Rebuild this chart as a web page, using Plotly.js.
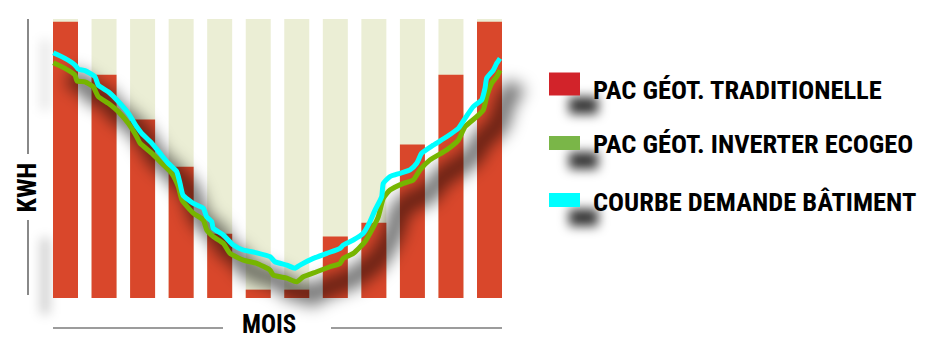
<!DOCTYPE html>
<html>
<head>
<meta charset="utf-8">
<script src="https://cdn.plot.ly/plotly-3.0.1.min.js"></script>
<style>
  html, body { margin: 0; padding: 0; background: #fff; }
  #chart { width: 928px; height: 338px; }
</style>
</head>
<body>
<div id="chart"></div>
<script>
// Monthly energy use: traditional geothermal heat pump (bars),
// inverter ECOGEO unit and building demand curve (lines).
const months = [1, 2, 3, 4, 5, 6, 7, 8, 9, 10, 11, 12];
const capacity = [100, 100, 100, 100, 100, 100, 100, 100, 100, 100, 100, 100];
const traditionalKwh = [99, 80, 64, 47, 23, 3, 3, 22, 27, 55, 80, 99];

const demandX = [0.683, 0.987, 1.246, 1.332, 1.506, 1.765, 1.851, 2.110, 2.370, 2.629,
  2.847, 2.977, 3.236, 3.452, 3.667, 3.885, 3.971, 4.048, 4.316, 4.575,
  4.663, 4.793, 4.834, 5.094, 5.353, 5.613, 5.961, 6.306, 6.435, 6.739,
  6.954, 7.084, 7.429, 7.777, 8.122, 8.207, 8.467, 8.726, 8.900, 9.030,
  9.203, 9.245, 9.419, 9.678, 9.938, 10.112, 10.241, 10.542, 10.890, 11.191,
  11.365, 11.580, 11.798, 11.883, 11.928, 12.099, 12.187, 12.273];
const demandKwh = [87.9, 85.9, 83.5, 82.0, 81.5, 79.3, 76.3, 73.9, 70.4, 66.2,
  61.4, 59.0, 55.5, 51.9, 48.3, 45.3, 41.1, 36.9, 33.9, 32.2,
  29.1, 27.4, 25.0, 22.6, 19.0, 17.2, 16.2, 14.8, 13.0, 11.8,
  10.7, 11.8, 14.2, 16.0, 17.8, 19.0, 20.8, 23.2, 27.4, 31.5,
  36.3, 41.1, 43.5, 44.7, 45.9, 48.3, 51.9, 54.8, 57.8, 60.8,
  64.4, 68.6, 71.0, 75.2, 78.8, 81.7, 84.1, 85.9];

const inverterX = [0.683, 0.987, 1.246, 1.298, 1.506, 1.721, 1.851, 2.110, 2.370, 2.629,
  2.847, 2.933, 3.236, 3.496, 3.755, 3.926, 4.022, 4.316, 4.575, 4.663,
  4.834, 5.094, 5.268, 5.613, 5.961, 6.306, 6.391, 6.739, 6.998, 7.169,
  7.517, 7.862, 8.122, 8.207, 8.467, 8.770, 8.900, 9.115, 9.245, 9.419,
  9.764, 10.023, 10.197, 10.457, 10.890, 11.191, 11.365, 11.669, 11.839, 11.928,
  12.057, 12.187, 12.273];
const inverterKwh = [84.3, 82.3, 79.9, 77.8, 77.5, 75.7, 72.2, 69.8, 66.8, 62.6,
  57.8, 55.5, 51.9, 48.3, 44.7, 39.9, 35.1, 30.4, 28.0, 24.4,
  22.0, 19.6, 16.0, 13.6, 12.4, 10.0, 8.2, 7.1, 5.8, 7.6,
  9.4, 11.2, 12.4, 14.2, 16.0, 20.2, 23.2, 29.1, 35.7, 38.7,
  41.1, 42.3, 45.9, 49.5, 53.1, 56.6, 61.4, 65.0, 67.4, 72.2,
  77.0, 79.3, 81.7];

const seriesNames = ['PAC GÉOT. TRADITIONELLE', 'PAC GÉOT. INVERTER ECOGEO', 'COURBE DEMANDE BÂTIMENT'];
const xTitle = 'MOIS';
const yTitle = 'KWH';

// Page geometry: the plot area fills the whole figure, so pixels map linearly to data.
const W = 928, H = 338;
const PX_PER_MONTH = 38.545, MONTH1_PX = 65.5;
const PX_PER_KWH = 2.79, ZERO_PX = 298;
const xRange = [1 - MONTH1_PX / PX_PER_MONTH, 1 + (W - MONTH1_PX) / PX_PER_MONTH];
const yRange = [-(H - ZERO_PX) / PX_PER_KWH, ZERO_PX / PX_PER_KWH];
const px = v => v / W;          // pixel x -> paper
const py = v => 1 - v / H;      // pixel y -> paper

const BAR_W = 25 / PX_PER_MONTH;
const SHADOW_DX = 16 / PX_PER_MONTH, SHADOW_DY = 14 / PX_PER_KWH;

const font = '"Liberation Sans Narrow", "Arial Narrow", "Roboto Condensed", "Liberation Sans", sans-serif';
const colors = {
  capacity: '#ebeed5', bars: '#d9472b', inverter: '#76b500', demand: '#00ffff',
  keyRed: '#d2232a', keyGreen: '#7ab648', keyCyan: '#00ffff', axis: '#3a3a3a'
};

const traces = [
  { type: 'bar', x: months, y: capacity, width: BAR_W, marker: { color: colors.capacity },
    hoverinfo: 'skip', showlegend: false },
  { type: 'bar', x: months, y: traditionalKwh, width: BAR_W, marker: { color: colors.bars },
    name: seriesNames[0], showlegend: false },
  // soft shadow under both curves (blurred after drawing)
  { type: 'scatter', mode: 'lines',
    x: inverterX.map(v => v + SHADOW_DX), y: inverterKwh.map(v => v - SHADOW_DY),
    line: { color: 'rgba(0,0,0,0.55)', width: 20, shape: 'spline', smoothing: 0.5 },
    hoverinfo: 'skip', showlegend: false },
  { type: 'scatter', mode: 'lines', x: inverterX, y: inverterKwh, name: seriesNames[1],
    line: { color: colors.inverter, width: 5, shape: 'spline', smoothing: 0.5 }, showlegend: false },
  { type: 'scatter', mode: 'lines', x: demandX, y: demandKwh, name: seriesNames[2],
    line: { color: colors.demand, width: 5, shape: 'spline', smoothing: 0.5 }, showlegend: false }
];

const keyRows = [88, 143, 200];
const keyColors = [colors.keyRed, colors.keyGreen, colors.keyCyan];
const keyHeights = [23, 14, 14];

const shapes = [];
const shadowShapes = [];
// key swatch shadows
keyRows.forEach(cy => {
  shadowShapes.push(shapes.length);
  shapes.push({ type: 'rect', xref: 'paper', yref: 'paper', layer: 'below',
    x0: px(569), x1: px(598), y0: py(cy + 9), y1: py(cy + 26),
    line: { width: 0 }, fillcolor: 'rgba(0,0,0,0.8)' });
});
// axis line shadows
[[40, 110, 0.1], [238, 314, 0.2]].forEach(s => {
  shadowShapes.push(shapes.length);
  shapes.push({ type: 'line', xref: 'paper', yref: 'paper', layer: 'below',
    x0: px(45), x1: px(45), y0: py(s[0]), y1: py(s[1]),
    line: { color: 'rgba(0,0,0,' + s[2] + ')', width: 9 } });
});
// key swatches
keyRows.forEach((cy, i) => {
  const shift = i === 0 ? -4 : 0;
  shapes.push({ type: 'rect', xref: 'paper', yref: 'paper',
    x0: px(549), x1: px(580),
    y0: py(cy - keyHeights[i] / 2 + shift), y1: py(cy + keyHeights[i] / 2 + shift),
    line: { width: 0 }, fillcolor: keyColors[i] });
});
// axis rules: vertical KWH rule, horizontal MOIS rules
const rule = (x0, y0, x1, y1) => ({ type: 'line', xref: 'paper', yref: 'paper',
  x0: px(x0), y0: py(y0), x1: px(x1), y1: py(y1), line: { color: colors.axis, width: 1.2 } });
shapes.push(rule(28, 19, 28, 154), rule(28, 220, 28, 295),
  rule(53, 328, 223, 328), rule(331, 328, 502, 328));

const annotations = [
  { text: '<b>' + yTitle + '</b>', xref: 'paper', yref: 'paper', x: px(26), y: py(187.5),
    textangle: -90, showarrow: false, xanchor: 'center', yanchor: 'middle',
    font: { family: font, size: 26, color: '#000' } },
  { text: '<b>' + xTitle + '</b>', xref: 'paper', yref: 'paper', x: px(269), y: py(323.5),
    showarrow: false, xanchor: 'center', yanchor: 'middle', height: 24, borderpad: 0,
    font: { family: font, size: 25, color: '#000' } }
];
seriesNames.forEach((name, i) => {
  annotations.push({ text: '<b>' + name + '</b>', xref: 'paper', yref: 'paper',
    x: px(591), y: py(keyRows[i] + 1), showarrow: false, xanchor: 'left', yanchor: 'middle',
    font: { family: font, size: 26.5, color: '#000' } });
});

const layout = {
  width: W, height: H,
  margin: { l: 0, r: 0, t: 0, b: 0, pad: 0 },
  paper_bgcolor: '#fff', plot_bgcolor: '#fff',
  barmode: 'overlay', showlegend: false,
  xaxis: { range: xRange, visible: false, fixedrange: true },
  yaxis: { range: yRange, visible: false, fixedrange: true },
  shapes: shapes, annotations: annotations
};

Plotly.newPlot('chart', traces, layout, { displayModeBar: false, staticPlot: true }).then(gd => {
  const NS = 'http://www.w3.org/2000/svg';
  const defs = gd.querySelector('.main-svg defs');
  const mkBlur = (id, sd) => {
    const f = document.createElementNS(NS, 'filter');
    f.setAttribute('id', id);
    f.setAttribute('filterUnits', 'userSpaceOnUse');
    f.setAttribute('x', '-300'); f.setAttribute('y', '-300');
    f.setAttribute('width', '1600'); f.setAttribute('height', '1000');
    const b = document.createElementNS(NS, 'feGaussianBlur');
    b.setAttribute('stdDeviation', sd);
    f.appendChild(b);
    defs.appendChild(f);
  };
  mkBlur('softShadow', 8);
  mkBlur('keyShadow', 5.5);
  const lineShadow = gd.querySelectorAll('.scatterlayer .trace')[0];
  if (lineShadow) lineShadow.setAttribute('filter', 'url(#softShadow)');
  shadowShapes.forEach(i => {
    const p = gd.querySelector('.shapelayer path[data-index="' + i + '"]');
    if (p) p.setAttribute('filter', 'url(#keyShadow)');
  });
});
</script>
</body>
</html>
